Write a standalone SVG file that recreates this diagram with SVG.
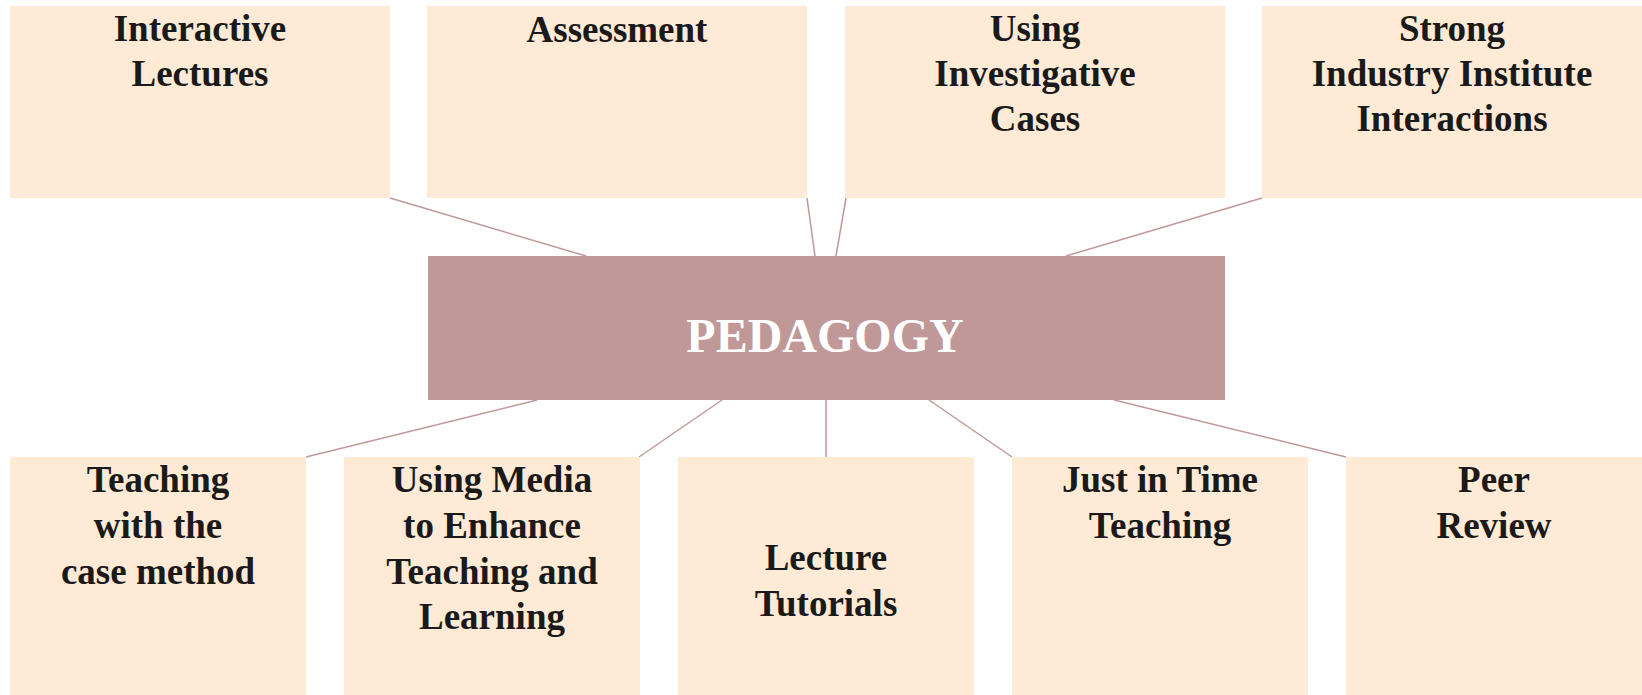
<svg xmlns="http://www.w3.org/2000/svg" width="1642" height="695" viewBox="0 0 1642 695">
<style>
.box{fill:#FFEBD5;}
.center{fill:#C09898;}
.lbl{font-family:"Liberation Serif","Times New Roman",serif;font-weight:bold;font-size:37px;fill:#1a1a1a;text-anchor:middle;}
.title{font-family:"Liberation Serif","Times New Roman",serif;font-weight:bold;font-size:48px;fill:#ffffff;text-anchor:middle;}
.conn line{stroke:#C09898;stroke-width:1.5;}
</style>
<rect x="0" y="0" width="1642" height="695" fill="#ffffff"/>
<g id="connectors" class="conn">
<line x1="390" y1="198" x2="586" y2="256"/>
<line x1="807" y1="198" x2="815" y2="256"/>
<line x1="846" y1="198" x2="836" y2="256"/>
<line x1="1262" y1="198" x2="1066" y2="256"/>
<line x1="537" y1="400" x2="306" y2="457"/>
<line x1="722" y1="400" x2="639" y2="457"/>
<line x1="826" y1="400" x2="826" y2="457"/>
<line x1="929" y1="400" x2="1012" y2="457"/>
<line x1="1114" y1="400" x2="1346" y2="457"/>
</g>
<g id="pedagogy">
<rect class="center" x="428" y="256" width="797" height="144"/>
<text class="title" x="825" y="352">PEDAGOGY</text>
</g>
<g id="interactive-lectures">
<rect class="box" x="10" y="6" width="380" height="192"/>
<text class="lbl" x="200" y="41">Interactive</text>
<text class="lbl" x="200" y="86">Lectures</text>
</g>
<g id="assessment">
<rect class="box" x="427" y="6" width="380" height="192"/>
<text class="lbl" x="617" y="42">Assessment</text>
</g>
<g id="investigative-cases">
<rect class="box" x="845" y="6" width="380" height="192"/>
<text class="lbl" x="1035" y="41">Using</text>
<text class="lbl" x="1035" y="86">Investigative</text>
<text class="lbl" x="1035" y="131">Cases</text>
</g>
<g id="industry-interactions">
<rect class="box" x="1262" y="6" width="380" height="192"/>
<text class="lbl" x="1452" y="41">Strong</text>
<text class="lbl" x="1452" y="86">Industry Institute</text>
<text class="lbl" x="1452" y="131">Interactions</text>
</g>
<g id="case-method">
<rect class="box" x="10" y="457" width="296" height="238"/>
<text class="lbl" x="158" y="492">Teaching</text>
<text class="lbl" x="158" y="538">with the</text>
<text class="lbl" x="158" y="584">case method</text>
</g>
<g id="using-media">
<rect class="box" x="344" y="457" width="296" height="238"/>
<text class="lbl" x="492" y="492">Using Media</text>
<text class="lbl" x="492" y="538">to Enhance</text>
<text class="lbl" x="492" y="584">Teaching and</text>
<text class="lbl" x="492" y="629">Learning</text>
</g>
<g id="lecture-tutorials">
<rect class="box" x="678" y="457" width="296" height="238"/>
<text class="lbl" x="826" y="570">Lecture</text>
<text class="lbl" x="826" y="616">Tutorials</text>
</g>
<g id="just-in-time">
<rect class="box" x="1012" y="457" width="296" height="238"/>
<text class="lbl" x="1160" y="492">Just in Time</text>
<text class="lbl" x="1160" y="538">Teaching</text>
</g>
<g id="peer-review">
<rect class="box" x="1346" y="457" width="296" height="238"/>
<text class="lbl" x="1494" y="492">Peer</text>
<text class="lbl" x="1494" y="538">Review</text>
</g>
</svg>
